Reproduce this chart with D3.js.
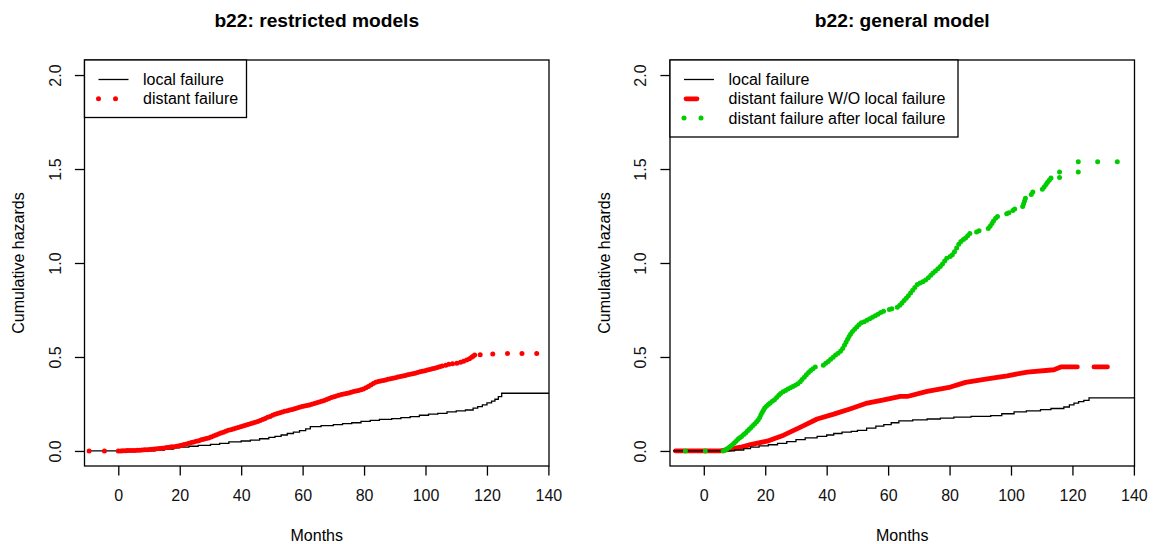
<!DOCTYPE html>
<html>
<head>
<meta charset="utf-8">
<script src="https://d3js.org/d3.v7.min.js"></script>
<style>
body { margin: 0; background: white; }
svg { font-family: 'Liberation Sans', Arial, sans-serif; }
.axis text { fill: #111; }
</style>
</head>
<body>
<div id="plotContainer"></div>
<script>

// ---- values ----
var xTicks = [0, 20, 40, 60, 80, 100, 120, 140];
var yTicks = [0, 0.5, 1.0, 1.5, 2.0];
var yTickLabels = ["0.0", "0.5", "1.0", "1.5", "2.0"];

// restricted models: local failure (step function)
var localT_r = [-10, 12, 15, 18, 20, 23, 26, 30, 33, 36, 40, 43, 46, 49, 51, 53, 55, 57, 59, 61, 62.5, 66, 70, 73, 76, 79, 82, 85, 89, 92, 95, 98, 101, 104, 107, 110, 113, 115.5, 117, 118.5, 120, 121.5, 122.6, 123.7, 124.8, 140.2];
var localH_r = [0, 0.005, 0.01, 0.017, 0.02, 0.025, 0.03, 0.035, 0.04, 0.048, 0.053, 0.058, 0.065, 0.072, 0.078, 0.085, 0.093, 0.1, 0.108, 0.118, 0.13, 0.135, 0.14, 0.145, 0.15, 0.157, 0.163, 0.168, 0.172, 0.177, 0.183, 0.19, 0.196, 0.2, 0.208, 0.213, 0.218, 0.228, 0.236, 0.245, 0.256, 0.265, 0.275, 0.289, 0.307, 0.307];

// restricted models: distant failure (points)
var distT_r = [-9.5, -4.5, 0, 0.8, 1.5, 2.3, 3, 3.8, 4.6, 5.4, 6.2, 7, 7.8, 8.6, 9.4, 10.2, 11, 11.8, 12.6, 13.4, 14.2, 15, 15.8, 16.6, 17.4, 18.2, 19, 19.8, 20.6, 21.4, 22.2, 23, 23.8, 24.6, 25.4, 26.2, 27, 27.8, 28.6, 29.4, 30.2, 31, 31.8, 32.6, 33.4, 34.2, 35, 35.8, 36.6, 37.4, 38.2, 39, 39.8, 40.6, 41.4, 42.2, 43, 43.8, 44.6, 45.4, 46.2, 47, 47.8, 48.6, 49.4, 50.2, 51, 51.8, 52.6, 53.4, 54.2, 55, 55.8, 56.6, 57.4, 58.2, 59, 59.8, 60.6, 61.4, 62.2, 63, 63.8, 64.6, 65.4, 66.2, 67, 67.8, 68.6, 69.4, 70.2, 71, 71.8, 72.6, 73.4, 74.2, 75, 75.8, 76.6, 77.4, 78.2, 79, 79.8, 80.6, 81.4, 82.2, 83, 83.8, 84.6, 85.4, 86.2, 87, 87.8, 88.6, 89.4, 90.2, 91, 91.8, 92.6, 93.4, 94.2, 95, 95.8, 96.6, 97.4, 98.2, 99, 99.8, 100.6, 101.4, 102.2, 103, 103.8, 104.6, 105.4, 106.6, 107.6, 108.8, 110.2, 111.4, 112.4, 113.4, 114.3, 115, 115.5, 116, 117.8, 121.9, 126.7, 131.4, 136.2];
var distH_r = [0, 0, 0, 0, 0.001, 0.001, 0.002, 0.002, 0.003, 0.003, 0.004, 0.004, 0.005, 0.006, 0.007, 0.008, 0.009, 0.01, 0.012, 0.013, 0.015, 0.016, 0.018, 0.02, 0.022, 0.023, 0.025, 0.028, 0.031, 0.034, 0.037, 0.041, 0.045, 0.048, 0.052, 0.055, 0.059, 0.062, 0.066, 0.069, 0.074, 0.079, 0.085, 0.09, 0.095, 0.1, 0.105, 0.11, 0.113, 0.117, 0.121, 0.125, 0.129, 0.133, 0.137, 0.141, 0.145, 0.149, 0.153, 0.157, 0.162, 0.168, 0.173, 0.179, 0.184, 0.19, 0.195, 0.199, 0.203, 0.207, 0.211, 0.214, 0.218, 0.221, 0.225, 0.229, 0.233, 0.236, 0.239, 0.242, 0.245, 0.249, 0.253, 0.257, 0.261, 0.265, 0.269, 0.274, 0.279, 0.284, 0.288, 0.292, 0.296, 0.3, 0.303, 0.306, 0.309, 0.312, 0.316, 0.319, 0.322, 0.326, 0.33, 0.336, 0.343, 0.351, 0.359, 0.365, 0.369, 0.372, 0.375, 0.378, 0.381, 0.384, 0.387, 0.39, 0.393, 0.396, 0.399, 0.402, 0.405, 0.408, 0.411, 0.414, 0.417, 0.421, 0.424, 0.427, 0.431, 0.434, 0.437, 0.44, 0.444, 0.448, 0.452, 0.456, 0.461, 0.464, 0.467, 0.472, 0.477, 0.484, 0.491, 0.498, 0.504, 0.51, 0.512, 0.516, 0.518, 0.518, 0.518];

// general model: local failure (step function)
var localT_g = [-10, 10, 13, 15.2, 18, 21, 24, 27, 30, 33, 36.9, 40, 42.3, 45, 48, 50, 53, 56, 58.6, 61, 63.5, 68, 72.7, 77, 81.4, 87, 93.4, 97, 101, 105, 109.6, 113, 117.2, 119, 120.5, 122, 123.7, 125.4, 140.3];
var localH_g = [0, 0.005, 0.012, 0.02, 0.027, 0.033, 0.04, 0.05, 0.06, 0.07, 0.078, 0.085, 0.093, 0.1, 0.104, 0.11, 0.122, 0.132, 0.14, 0.15, 0.16, 0.165, 0.17, 0.175, 0.18, 0.184, 0.188, 0.198, 0.208, 0.213, 0.22, 0.226, 0.234, 0.245, 0.255, 0.262, 0.269, 0.282, 0.282];

// general model: distant failure W/O local failure (thick line, gap near 124)
var noLocalT = [-9.2, 5.4, 8.7, 12, 15.2, 20.6, 26, 31.5, 36.9, 42.3, 47.8, 53.2, 58.6, 64, 66.2, 72.7, 80.3, 85.2, 92.3, 98.8, 105.3, 114, 116.2, 121.6, 124, 127, 131.4];
var noLocalH = [0, 0, 0.01, 0.02, 0.034, 0.052, 0.084, 0.127, 0.17, 0.196, 0.225, 0.255, 0.272, 0.29, 0.29, 0.317, 0.34, 0.365, 0.383, 0.4, 0.42, 0.432, 0.447, 0.447, null, 0.447, 0.447];

// general model: distant failure after local failure (points)
var afterLocalT = [-6, 0.5, 6.3, 7, 7.6, 8.2, 8.7, 9.3, 9.9, 10.5, 11.1, 11.7, 12.3, 13, 13.6, 14.2, 14.8, 15.4, 16, 16.6, 17.2, 17.7, 18.2, 18.6, 19, 19.4, 19.8, 20.4, 21, 21.6, 22.3, 23, 23.7, 24.4, 25, 25.8, 26.6, 27.4, 28.2, 29, 29.8, 30.6, 31.4, 32, 32.7, 33.4, 34.1, 34.8, 35.5, 36.3, 38.9, 39.7, 40.5, 41.3, 42.1, 42.9, 43.7, 44.5, 45.2, 45.8, 46.3, 46.8, 47.3, 47.8, 48.4, 49.1, 49.8, 50.5, 51.3, 52.2, 53.1, 54, 54.9, 55.8, 56.7, 57.6, 58.5, 60.4, 61.2, 63, 63.8, 64.5, 65.2, 65.9, 66.6, 67.3, 68, 68.7, 69.5, 70.4, 71.3, 72.2, 73.1, 73.9, 74.6, 75.4, 76.2, 77, 77.7, 78.4, 79.1, 80.2, 80.9, 81.6, 82.3, 83, 83.7, 84.5, 85.2, 85.9, 86.6, 88.8, 89.6, 92.6, 93.2, 93.8, 94.3, 95, 95.6, 98.6, 99.3, 100.6, 101.2, 103.8, 104.1, 104.4, 104.7, 106.6, 107.1, 110.2, 110.8, 111.4, 111.9, 112.5, 113, 115.8, 115.8, 121.9, 121.9, 128.2, 134.6];
var afterLocalH = [0, 0, 0, 0.005, 0.012, 0.018, 0.025, 0.033, 0.042, 0.052, 0.062, 0.07, 0.077, 0.087, 0.096, 0.106, 0.115, 0.125, 0.135, 0.145, 0.155, 0.165, 0.178, 0.192, 0.204, 0.216, 0.228, 0.238, 0.247, 0.255, 0.264, 0.273, 0.284, 0.296, 0.306, 0.315, 0.322, 0.33, 0.336, 0.343, 0.35, 0.358, 0.368, 0.38, 0.392, 0.405, 0.418, 0.428, 0.437, 0.447, 0.456, 0.466, 0.476, 0.488, 0.499, 0.51, 0.52, 0.53, 0.545, 0.562, 0.578, 0.594, 0.609, 0.622, 0.635, 0.648, 0.66, 0.672, 0.682, 0.688, 0.695, 0.703, 0.712, 0.72, 0.728, 0.736, 0.743, 0.752, 0.757, 0.765, 0.775, 0.787, 0.8, 0.813, 0.826, 0.84, 0.855, 0.87, 0.885, 0.893, 0.9, 0.91, 0.922, 0.935, 0.947, 0.958, 0.97, 0.982, 0.995, 1.01, 1.025, 1.035, 1.044, 1.06, 1.08, 1.1, 1.115, 1.125, 1.133, 1.145, 1.157, 1.165, 1.172, 1.184, 1.196, 1.21, 1.224, 1.238, 1.248, 1.262, 1.268, 1.279, 1.287, 1.3, 1.315, 1.33, 1.345, 1.365, 1.378, 1.392, 1.405, 1.418, 1.43, 1.442, 1.452, 1.455, 1.484, 1.484, 1.539, 1.539, 1.539];

function pairs(t, h) {
  return d3.zip(t, h).map(function(p) { return {t: p[0], h: p[1]}; });
}

var red = "#FF0000", green = "#00CD00";

var panels = [
  {
    title: "b22: restricted models", left: 84.5, right: 549, legendW: 162, legendH: 57.5,
    steps: pairs(localT_r, localH_r),
    thick: null,
    dots: [{data: pairs(distT_r, distH_r), color: red}],
    legend: [
      {label: "local failure", kind: "line"},
      {label: "distant failure", kind: "dots", color: red}
    ]
  },
  {
    title: "b22: general model", left: 670, right: 1134.5, legendW: 288, legendH: 77,
    steps: pairs(localT_g, localH_g),
    thick: pairs(noLocalT, noLocalH),
    dots: [{data: pairs(afterLocalT, afterLocalH), color: green}],
    legend: [
      {label: "local failure", kind: "line"},
      {label: "distant failure W/O local failure", kind: "thick", color: red},
      {label: "distant failure after local failure", kind: "dots", color: green}
    ]
  }
];

var plotTop = 60, plotBottom = 466;

var svg = d3.select("#plotContainer")
  .append("svg")
  .attr("width", 1155)
  .attr("height", 544);

panels.forEach(function(p) {

  var x = d3.scaleLinear().domain([-11, 140.2]).range([p.left, p.right]);
  var y = d3.scaleLinear().domain([-0.08, 2.08]).range([plotBottom, plotTop]);
  var cx = (p.left + p.right) / 2;

  var g = svg.append("g");

  // title
  g.append("text")
    .attr("x", cx)
    .attr("y", 27)
    .attr("text-anchor", "middle")
    .attr("font-size", 19.2)
    .attr("font-weight", "bold")
    .text(p.title);

  // axes
  var xa = g.append("g")
    .attr("class", "axis")
    .attr("transform", "translate(0," + plotBottom + ")")
    .call(d3.axisBottom(x).tickValues(xTicks).tickSize(9.6).tickSizeOuter(0).tickFormat(d3.format("d")));
  xa.attr("font-family", null);
  xa.select(".domain").remove();
  xa.selectAll("line").attr("stroke", "#000").attr("stroke-width", 1.3);
  xa.selectAll("text")
    .attr("y", 35)
    .attr("dy", 0)
    .attr("font-size", 16);

  var ya = g.append("g")
    .attr("class", "axis")
    .attr("transform", "translate(" + p.left + ",0)")
    .call(d3.axisLeft(y).tickValues(yTicks).tickSize(9.6).tickSizeOuter(0)
      .tickFormat(function(d, i) { return yTickLabels[i]; }));
  ya.attr("font-family", null);
  ya.select(".domain").remove();
  ya.selectAll("line").attr("stroke", "#000").attr("stroke-width", 1.3);
  ya.selectAll("text")
    .attr("x", null)
    .attr("dy", 0)
    .attr("text-anchor", "middle")
    .attr("transform", "translate(-24,0) rotate(-90)")
    .attr("font-size", 16);

  // axis titles
  g.append("text")
    .attr("x", cx)
    .attr("y", 541)
    .attr("text-anchor", "middle")
    .attr("font-size", 16)
    .text("Months");

  g.append("text")
    .attr("transform", "translate(" + (p.left - 60.5) + "," + ((plotTop + plotBottom) / 2) + ") rotate(-90)")
    .attr("text-anchor", "middle")
    .attr("font-size", 16)
    .text("Cumulative hazards");

  // curves
  var stepLine = d3.line()
    .x(function(d) { return x(d.t); })
    .y(function(d) { return y(d.h); })
    .curve(d3.curveStepAfter);

  if (p.thick) {
    var thickLine = d3.line()
      .defined(function(d) { return d.h !== null; })
      .x(function(d) { return x(d.t); })
      .y(function(d) { return y(d.h); });
    g.append("path")
      .datum(p.thick)
      .attr("d", thickLine)
      .attr("fill", "none")
      .attr("stroke", red)
      .attr("stroke-width", 4.8)
      .attr("stroke-linecap", "round")
      .attr("stroke-linejoin", "round");
  }

  g.append("path")
    .datum(p.steps)
    .attr("d", stepLine)
    .attr("fill", "none")
    .attr("stroke", "#000")
    .attr("stroke-width", 1.3);

  p.dots.forEach(function(s) {
    g.append("g").selectAll("circle")
      .data(s.data)
      .enter()
      .append("circle")
        .attr("cx", function(d) { return x(d.t); })
        .attr("cy", function(d) { return y(d.h); })
        .attr("r", 2.5)
        .attr("fill", s.color);
  });

  // box
  g.append("rect")
    .attr("x", p.left)
    .attr("y", plotTop)
    .attr("width", p.right - p.left)
    .attr("height", plotBottom - plotTop)
    .attr("fill", "none")
    .attr("stroke", "#000")
    .attr("stroke-width", 1.3);

  // legend
  var lg = g.append("g").attr("transform", "translate(" + p.left + "," + plotTop + ")");
  lg.append("rect")
    .attr("width", p.legendW)
    .attr("height", p.legendH)
    .attr("fill", "white")
    .attr("stroke", "#000")
    .attr("stroke-width", 1.3);

  p.legend.forEach(function(item, i) {
    var ry = 19.5 + i * 19.3;
    if (item.kind == "line") {
      lg.append("line")
        .attr("x1", 14).attr("x2", 44)
        .attr("y1", ry).attr("y2", ry)
        .attr("stroke", "#000").attr("stroke-width", 1.3);
    } else if (item.kind == "thick") {
      lg.append("line")
        .attr("x1", 16).attr("x2", 27)
        .attr("y1", ry).attr("y2", ry)
        .attr("stroke", item.color).attr("stroke-width", 4.8)
        .attr("stroke-linecap", "round");
    } else {
      [14, 31].forEach(function(dx) {
        lg.append("circle")
          .attr("cx", dx).attr("cy", ry)
          .attr("r", 2.5)
          .attr("fill", item.color);
      });
    }
    lg.append("text")
      .attr("x", 58.5)
      .attr("y", ry + 5.6)
      .attr("font-size", 16)
      .text(item.label);
  });
});

</script>
</body>
</html>
